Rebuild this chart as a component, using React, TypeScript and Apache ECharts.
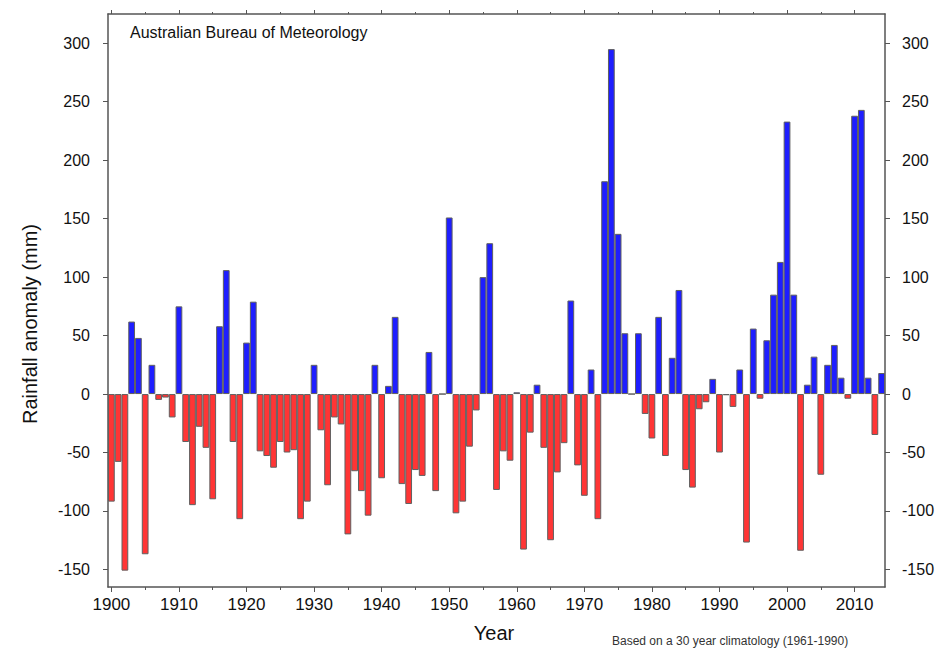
import React, { useEffect, useRef } from "react";
import * as echarts from "echarts";

const years: string[] = [];
for (let y = 1900; y <= 2014; y++) years.push(String(y));

const anomalies: number[] = [
  -92, -58, -151, 62, 48, -137, 25, -5, -3, -20,
  75, -41, -95, -28, -46, -90, 58, 106, -41, -107,
  44, 79, -49, -53, -63, -41, -50, -48, -107, -92,
  25, -31, -78, -20, -26, -120, -66, -83, -104, 25,
  -72, 7, 66, -77, -94, -65, -70, 36, -83, 0,
  151, -102, -92, -45, -14, 100, 129, -82, -49, -57,
  1.5, -133, -33, 8, -46, -125, -67, -42, 80, -61,
  -87, 21, -107, 182, 295, 137, 52, 0, 52, -17,
  -38, 66, -53, 31, 89, -65, -80, -13, -7, 13,
  -50, -1, -11, 21, -127, 56, -4, 46, 85, 113,
  233, 85, -134, 8, 32, -69, 25, 42, 14, -4,
  238, 243, 14, -35, 18,
];

const yTicks: number[] = [-150, -100, -50, 0, 50, 100, 150, 200, 250, 300];

const FONT = "'Liberation Sans', Arial, Helvetica, sans-serif";
const AXIS_COLOR = "#555";

export default function App() {
  const ref = useRef<HTMLDivElement>(null);

  useEffect(() => {
    document.body.style.margin = "0";
    if (!ref.current) return;
    const chart = echarts.init(ref.current, undefined, { renderer: "svg" });

    const barData = anomalies.map((v) => ({
      value: v,
      itemStyle: { color: v >= 0 ? "#1e1eff" : "#ff3535" },
    }));

    const majorTick = (i: number) => i % 10 === 0;
    const minorTick = (i: number) => i % 5 === 0 && i % 10 !== 0;

    const baseX = {
      type: "category" as const,
      data: years,
      boundaryGap: true,
      splitLine: { show: false },
    };

    const yBase = (position: "left" | "right", margin: number) => ({
      type: "value" as const,
      position,
      min: -165,
      max: 325,
      splitLine: { show: false },
      axisLine: { show: true, lineStyle: { color: AXIS_COLOR, width: 1.5 } },
      axisTick: {
        show: true,
        length: 5,
        customValues: yTicks,
        lineStyle: { color: AXIS_COLOR, width: 1 },
      },
      axisLabel: {
        customValues: yTicks,
        fontSize: 16,
        fontFamily: FONT,
        color: "#111",
        margin,
      },
    });

    chart.setOption({
      animation: false,
      backgroundColor: "#fff",
      grid: { left: 108, right: 56, top: 14, bottom: 62, containLabel: false },
      xAxis: [
        {
          ...baseX,
          position: "bottom",
          axisLine: { show: true, onZero: false, lineStyle: { color: AXIS_COLOR, width: 1.5 } },
          axisTick: {
            show: true,
            alignWithLabel: true,
            interval: majorTick,
            length: 5,
            lineStyle: { color: AXIS_COLOR },
          },
          axisLabel: {
            interval: 9,
            fontSize: 17,
            fontFamily: FONT,
            color: "#111",
            margin: 9,
          },
        },
        {
          ...baseX,
          position: "bottom",
          axisLine: { show: false, onZero: false },
          axisTick: {
            show: true,
            alignWithLabel: true,
            interval: minorTick,
            length: 3,
            lineStyle: { color: AXIS_COLOR },
          },
          axisLabel: { show: false },
        },
        {
          ...baseX,
          position: "top",
          axisLine: { show: true, onZero: false, lineStyle: { color: AXIS_COLOR, width: 1.5 } },
          axisTick: {
            show: true,
            alignWithLabel: true,
            interval: majorTick,
            length: 4,
            lineStyle: { color: AXIS_COLOR },
          },
          axisLabel: { show: false },
        },
        {
          ...baseX,
          position: "top",
          axisLine: { show: false, onZero: false },
          axisTick: {
            show: true,
            alignWithLabel: true,
            interval: minorTick,
            length: 2,
            lineStyle: { color: AXIS_COLOR },
          },
          axisLabel: { show: false },
        },
      ],
      yAxis: [yBase("left", 18), yBase("right", 17)],
      series: [
        {
          type: "bar",
          xAxisIndex: 0,
          yAxisIndex: 0,
          data: barData,
          barWidth: "100%",
          barGap: "0%",
          itemStyle: { borderColor: "#606060", borderWidth: 1 },
        },
      ],
      graphic: [
        {
          type: "text",
          x: 130,
          y: 24,
          style: {
            text: "Australian Bureau of Meteorology",
            font: `16px ${FONT}`,
            fill: "#111",
          },
        },
        {
          type: "text",
          x: 30,
          y: 324,
          rotation: Math.PI / 2,
          style: {
            text: "Rainfall anomaly (mm)",
            font: `20px ${FONT}`,
            fill: "#111",
            textAlign: "center",
            textVerticalAlign: "middle",
          },
        },
        {
          type: "text",
          x: 494,
          y: 633,
          style: {
            text: "Year",
            font: `20px ${FONT}`,
            fill: "#111",
            textAlign: "center",
            textVerticalAlign: "middle",
          },
        },
        {
          type: "text",
          x: 612,
          y: 635,
          style: {
            text: "Based on a 30 year climatology (1961-1990)",
            font: `12px ${FONT}`,
            fill: "#333",
          },
        },
      ],
    });

    return () => chart.dispose();
  }, []);

  return <div ref={ref} style={{ width: 941, height: 649 }} />;
}
